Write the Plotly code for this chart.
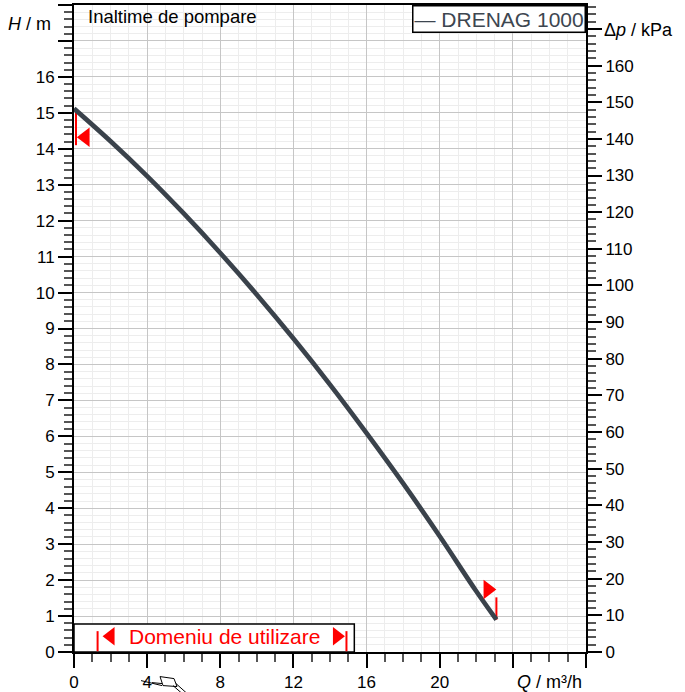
import plotly.graph_objects as go

# ---------------- data ----------------
flow_q = [0, 2, 4, 6, 8, 10, 12, 14, 16, 18, 20, 22, 23.1]          # m3/h
head_h = [15.12, 14.21, 13.24, 12.20, 11.10, 9.94, 8.72, 7.44, 6.09,
          4.69, 3.22, 1.69, 0.90]                                       # m
series_name = "DRENAG 1000"

# operating-range limit markers on the curve
limit_q = [0.62, 22.63]
limit_h = [14.32, 1.74]
limit_symbols = ["triangle-left", "triangle-right"]
limit_bar_q = [0.11, 23.1]
limit_bar_h_top = [15.12, 1.52]
limit_bar_h_bot = [14.10, 0.90]

# "Domeniu de utilizare" box
domain_label = "Domeniu de utilizare"
domain_box_q = [0, 15.33]
domain_box_h = [0, 0.78]
domain_bar_q = [1.29, 14.9]
domain_bar_h = [0.02, 0.58]
domain_arrow_q = [2.0, 14.38]
domain_arrow_h = [0.44, 0.44]
domain_arrow_symbols = ["triangle-left", "triangle-right"]

# axes
q_range = [0, 28]
h_range = [0, 18]
KPA_PER_M = 9.80665
x_tick_vals = [0, 4, 8, 12, 16, 20, 24, 28]
x_tick_text = ["0", "4", "8", "12", "16", "20", "", ""]
y_tick_vals = list(range(0, 19))
y_tick_text = [str(v) for v in range(0, 17)] + ["", ""]
p_tick_vals = list(range(0, 180, 10))
p_tick_text = [str(v) for v in range(0, 170, 10)] + [""]

FONT = "Liberation Sans, Arial, sans-serif"
CURVE = "#3a424b"
RED = "#ff0000"

fig = go.Figure()

# red limit bars
for q, h0, h1 in zip(limit_bar_q, limit_bar_h_top, limit_bar_h_bot):
    fig.add_trace(go.Scatter(x=[q, q], y=[h0, h1], mode="lines",
                             line=dict(color=RED, width=2),
                             showlegend=False, hoverinfo="skip"))

# pump curve
fig.add_trace(go.Scatter(x=flow_q, y=head_h, mode="lines", name=series_name,
                         line=dict(color=CURVE, width=4.7, shape="spline"),
                         showlegend=False))

# limit triangles
fig.add_trace(go.Scatter(x=limit_q, y=limit_h, mode="markers",
                         marker=dict(symbol=limit_symbols, size=17, color=RED,
                                     line=dict(width=0)),
                         showlegend=False, hoverinfo="skip"))

# domain bars and arrows
for q in domain_bar_q:
    fig.add_trace(go.Scatter(x=[q, q], y=domain_bar_h, mode="lines",
                             line=dict(color=RED, width=2),
                             showlegend=False, hoverinfo="skip"))
fig.add_trace(go.Scatter(x=domain_arrow_q, y=domain_arrow_h, mode="markers",
                         marker=dict(symbol=domain_arrow_symbols, size=16,
                                     color=RED, line=dict(width=0)),
                         showlegend=False, hoverinfo="skip"))

# helper trace for the kPa axis
fig.add_trace(go.Scatter(x=[flow_q[0]], y=[head_h[0] * KPA_PER_M], yaxis="y2",
                         mode="markers", marker=dict(opacity=0),
                         showlegend=False, hoverinfo="skip"))

fig.add_shape(type="rect", xref="x", yref="y",
              x0=domain_box_q[0], x1=domain_box_q[1],
              y0=domain_box_h[0], y1=domain_box_h[1],
              fillcolor="white", line=dict(color="black", width=1.5),
              layer="between")

fig.add_annotation(x=8.24, y=domain_arrow_h[0], xref="x", yref="y",
                   text=domain_label, showarrow=False,
                   font=dict(family=FONT, size=21, color=RED))


# small pump sketch (decoration below the x axis, partly cut off)
def px(x):
    return (x - 74) / 512.0


def py(y):
    return (652.4 - y) / 647.4


sketch = [
    [(141, 681), (162, 686)],
    [(160, 677), (174, 679), (177, 687), (163, 686), (160, 677)],
    [(152, 683), (162, 684)],
    [(173, 686), (181, 693)],
    [(176, 684), (186, 693)],
]
for poly in sketch:
    path = "M " + " L ".join(f"{px(a):.4f},{py(b):.4f}" for a, b in poly)
    fig.add_shape(type="path", xref="paper", yref="paper", path=path,
                  line=dict(color="black", width=1))

# texts
fig.add_annotation(x=0.66, y=17.68, xref="x", yref="y", xanchor="left",
                   yanchor="middle", text="Inaltime de pompare",
                   showarrow=False, font=dict(family=FONT, size=18.5, color="black"))
fig.add_annotation(x=1.0, y=1.0, xref="paper", yref="paper", xanchor="right",
                   yanchor="top", text="— " + series_name, showarrow=False,
                   bgcolor="white", bordercolor="black", borderwidth=1.5,
                   borderpad=1,
                   font=dict(family=FONT, size=21, color="#3d4650"))
fig.add_annotation(x=-0.041, y=17.46, xref="paper", yref="y", xanchor="right",
                   yanchor="middle", text="<i>H</i> / m", showarrow=False,
                   font=dict(family=FONT, size=18, color="black"))
fig.add_annotation(x=1.031, y=17.3, xref="paper", yref="y", xanchor="left",
                   yanchor="middle", text="Δ<i>p</i> / kPa", showarrow=False,
                   font=dict(family=FONT, size=18, color="black"))
fig.add_annotation(x=0.996, y=-0.047, xref="paper", yref="paper", xanchor="right",
                   yanchor="middle", text="<i>Q</i> / m³/h", showarrow=False,
                   font=dict(family=FONT, size=18, color="black"))

tickfont = dict(family=FONT, size=17, color="black")
fig.update_layout(
    width=685, height=692,
    margin=dict(l=74, r=99, t=5, b=40, autoexpand=False),
    paper_bgcolor="white", plot_bgcolor="white",
    font=dict(family=FONT),
    xaxis=dict(range=q_range, tickmode="array", tickvals=x_tick_vals,
               ticktext=x_tick_text, ticks="outside", ticklen=14, tickwidth=2,
               tickcolor="black", tickfont=tickfont, showline=True,
               linecolor="black", linewidth=2, mirror=True, automargin=False,
               showgrid=True, gridcolor="#c6c6c6", gridwidth=1, zeroline=False,
               minor=dict(tickmode="linear", tick0=0, dtick=1, ticks="outside",
                          ticklen=8, tickwidth=1.5, tickcolor="#555555",
                          showgrid=True, gridcolor="#ededed", gridwidth=1)),
    yaxis=dict(range=h_range, tickmode="array", tickvals=y_tick_vals,
               ticktext=y_tick_text, ticks="outside", ticklen=14, tickwidth=2,
               tickcolor="black", tickfont=tickfont, showline=True,
               linecolor="black", linewidth=2, automargin=False,
               showgrid=True, gridcolor="#c6c6c6", gridwidth=1, zeroline=False,
               minor=dict(tickmode="linear", tick0=0, dtick=0.2, ticks="outside",
                          ticklen=8, tickwidth=1.5, tickcolor="#555555",
                          showgrid=True, gridcolor="#ededed", gridwidth=1)),
    yaxis2=dict(range=[h_range[0] * KPA_PER_M, h_range[1] * KPA_PER_M],
                overlaying="y", side="right", tickmode="array",
                tickvals=p_tick_vals, ticktext=p_tick_text, ticks="outside",
                ticklen=14, tickwidth=2, tickcolor="black", tickfont=tickfont,
                showline=True, linecolor="black", linewidth=2, automargin=False,
                showgrid=False, zeroline=False,
                minor=dict(tickmode="linear", tick0=0, dtick=2, ticks="outside",
                           ticklen=8, tickwidth=1.5, tickcolor="#555555",
                           showgrid=False)),
)

fig.write_html("out.html", config={"displayModeBar": False},
               post_script="document.body.style.margin='0';"
                           "document.body.style.padding='0';")
